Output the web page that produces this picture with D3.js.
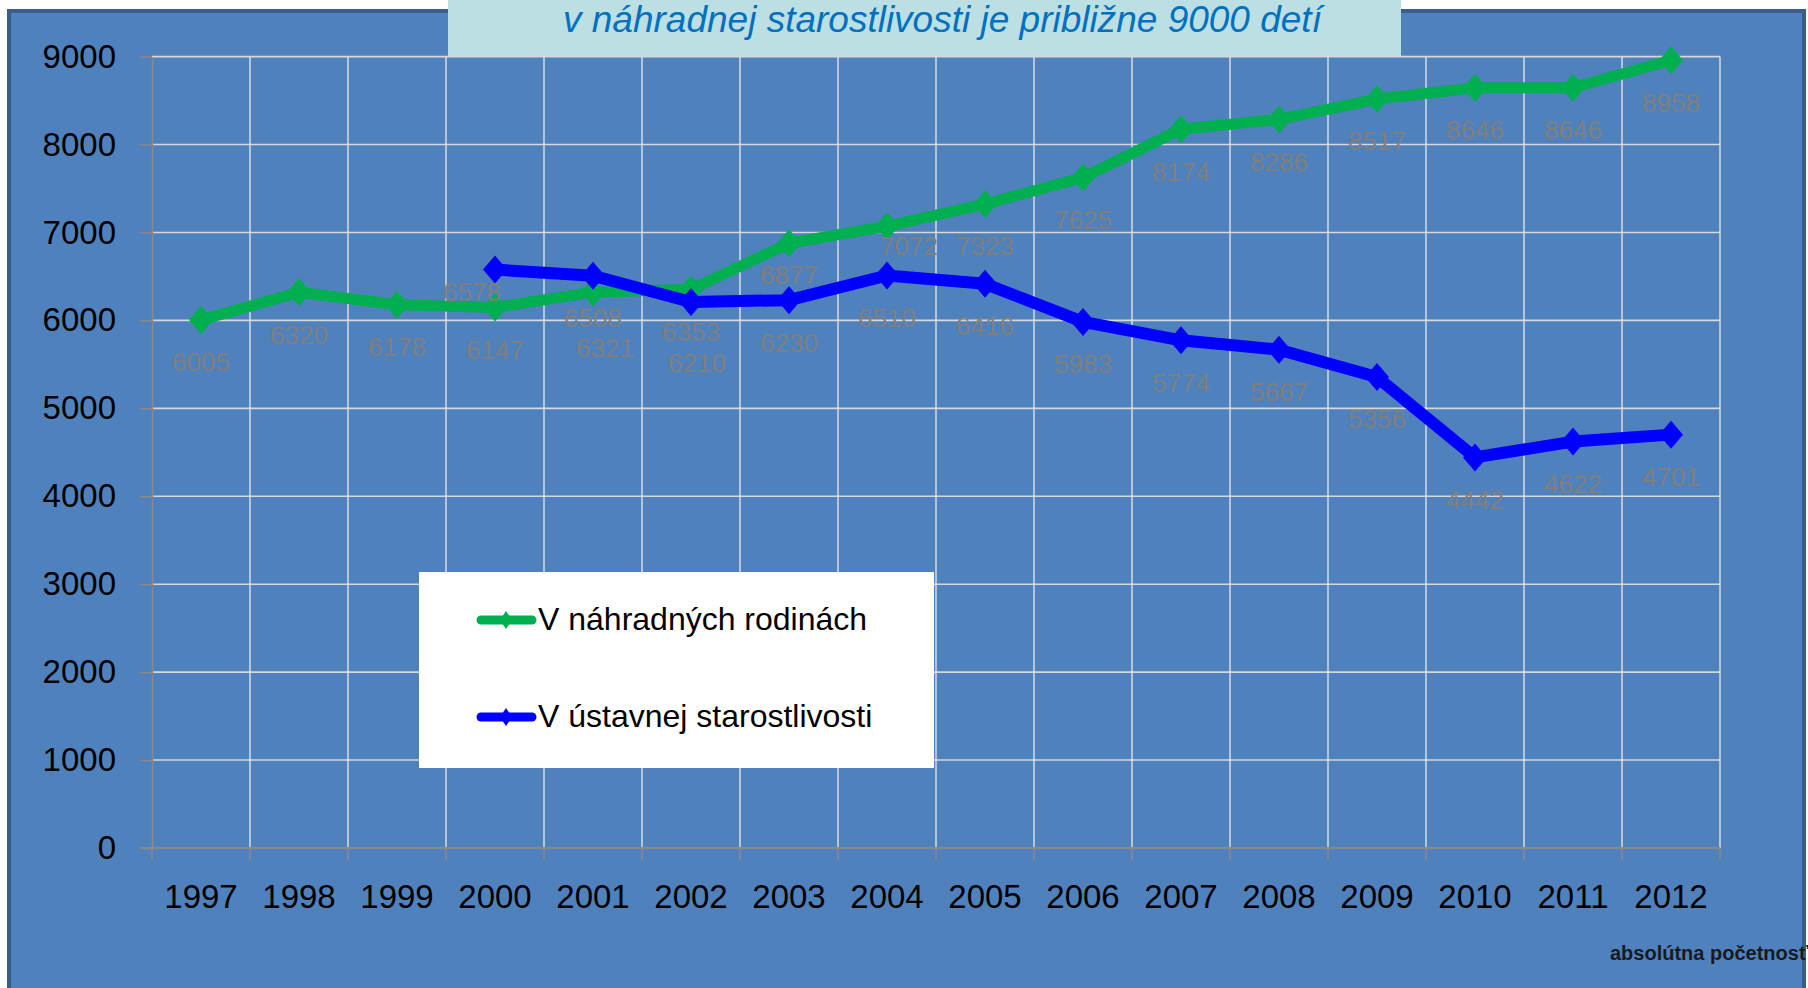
<!DOCTYPE html>
<html>
<head>
<meta charset="utf-8">
<script src="https://cdn.jsdelivr.net/npm/d3@7"></script>
<style>
  body { margin: 0; background: #fff; }
  svg { display: block; font-family: "Liberation Sans", Arial, sans-serif; }
</style>
</head>
<body>
<svg id="chart"></svg>
<script>
var width = 1808,
    height = 988;

// data
var years = ["1997", "1998", "1999", "2000", "2001", "2002", "2003", "2004",
             "2005", "2006", "2007", "2008", "2009", "2010", "2011", "2012"];
var rodiny = [6005, 6320, 6178, 6147, 6321, 6353, 6877, 7072,
              7323, 7625, 8174, 8286, 8517, 8646, 8646, 8958];
var ustavy = [null, null, null, 6578, 6508, 6210, 6230, 6510,
              6416, 5983, 5774, 5667, 5356, 4442, 4622, 4701];
var yTicks = [0, 1000, 2000, 3000, 4000, 5000, 6000, 7000, 8000, 9000];
var seriesNames = ["V náhradných rodinách", "V ústavnej starostlivosti"];
var titleText = "v náhradnej starostlivosti je približne 9000 detí";
var noteText = "absolútna početnosť";

// a few labels were pushed around by hand in the original
var labelNudge = {
  "g2001": [12, 13],
  "g2003": [0, -11],
  "g2004": [22, -22],
  "b2000": [-23, -20],
  "b2002": [6, 19]
};

var plot = { left: 152, right: 1720, top: 56.6, bottom: 848 };

var svg = d3.select("#chart").attr("width", width).attr("height", height);

// background frame
svg.append("rect")
  .attr("x", 9).attr("y", 11)
  .attr("width", 1795).attr("height", 1000)
  .attr("fill", "#4f81bd")
  .attr("stroke", "#3a5e8c")
  .attr("stroke-width", 4);

var x = d3.scaleBand().domain(years).range([plot.left, plot.right]).padding(0);
var y = d3.scaleLinear().domain([0, 9000]).range([plot.bottom, plot.top]);

// horizontal gridlines
svg.append("g")
  .selectAll("line")
  .data(yTicks.filter(function(d) { return d > 0; }))
  .enter().append("line")
  .attr("x1", plot.left).attr("x2", plot.right)
  .attr("y1", function(d) { return y(d); })
  .attr("y2", function(d) { return y(d); })
  .attr("stroke", "#d4d8de")
  .attr("stroke-width", 1.6);

// vertical gridlines between categories
svg.append("g")
  .selectAll("line")
  .data(years)
  .enter().append("line")
  .attr("x1", function(d) { return x(d) + x.bandwidth(); })
  .attr("x2", function(d) { return x(d) + x.bandwidth(); })
  .attr("y1", plot.top).attr("y2", plot.bottom)
  .attr("stroke", "#dfe3e8")
  .attr("stroke-width", 1.4);

// y axis
var yAxis = svg.append("g")
  .attr("transform", "translate(" + plot.left + ",0)")
  .call(d3.axisLeft(y).tickValues(yTicks).tickFormat(d3.format("d"))
    .tickSize(12).tickPadding(24).tickSizeOuter(0));
yAxis.select(".domain").attr("stroke", "#8a8a8a").attr("stroke-width", 1.5);
yAxis.selectAll(".tick line").attr("stroke", "#8a8a8a").attr("stroke-width", 1.5);
yAxis.selectAll(".tick text")
  .attr("fill", "#000")
  .attr("font-size", 33)
  .attr("font-family", "'Liberation Sans', Arial, sans-serif");

// x axis line + ticks on band edges
svg.append("line")
  .attr("x1", plot.left - 12).attr("x2", plot.right)
  .attr("y1", plot.bottom).attr("y2", plot.bottom)
  .attr("stroke", "#8a8a8a").attr("stroke-width", 2);
svg.append("g")
  .selectAll("line")
  .data([null].concat(years))
  .enter().append("line")
  .attr("x1", function(d) { return d === null ? x(years[0]) : x(d) + x.bandwidth(); })
  .attr("x2", function(d) { return d === null ? x(years[0]) : x(d) + x.bandwidth(); })
  .attr("y1", plot.bottom).attr("y2", plot.bottom + 12)
  .attr("stroke", "#8a8a8a").attr("stroke-width", 1.5);

var xAxis = svg.append("g")
  .attr("transform", "translate(0," + plot.bottom + ")")
  .call(d3.axisBottom(x).tickSize(0).tickPadding(37));
xAxis.select(".domain").remove();
xAxis.selectAll(".tick text")
  .attr("fill", "#000")
  .attr("font-size", 33)
  .attr("font-family", "'Liberation Sans', Arial, sans-serif");

// series
function diamond(hw, hh) {
  return "M0," + (-hh) + "L" + hw + ",0L0," + hh + "L" + (-hw) + ",0Z";
}

var series = [
  { key: "g", values: rodiny, color: "#00b050", width: 11 },
  { key: "b", values: ustavy, color: "#0000ff", width: 12 }
];

var line = d3.line()
  .defined(function(d) { return d.v != null; })
  .x(function(d) { return x(d.year) + x.bandwidth() / 2; })
  .y(function(d) { return y(d.v); });

series.forEach(function(s) {
  var pts = years.map(function(yr, i) { return { year: yr, v: s.values[i] }; });
  s.pts = pts.filter(function(d) { return d.v != null; });
  svg.append("path")
    .datum(pts)
    .attr("fill", "none")
    .attr("stroke", s.color)
    .attr("stroke-width", s.width)
    .attr("stroke-linejoin", "round")
    .attr("d", line);
  svg.append("g")
    .selectAll("path")
    .data(s.pts)
    .enter().append("path")
    .attr("d", diamond(12, 14))
    .attr("fill", s.color)
    .attr("transform", function(d) {
      return "translate(" + (x(d.year) + x.bandwidth() / 2) + "," + y(d.v) + ")";
    });
});

// data labels
series.forEach(function(s) {
  svg.append("g")
    .selectAll("text")
    .data(s.pts)
    .enter().append("text")
    .attr("x", function(d) {
      var n = labelNudge[s.key + d.year] || [0, 0];
      return x(d.year) + x.bandwidth() / 2 + n[0];
    })
    .attr("y", function(d) {
      var n = labelNudge[s.key + d.year] || [0, 0];
      return y(d.v) + 42 + n[1];
    })
    .attr("dy", "0.36em")
    .attr("text-anchor", "middle")
    .attr("font-size", 26)
    .attr("fill", "#7f7f7f")
    .text(function(d) { return d.v; });
});

// legend
var legend = svg.append("g");
legend.append("rect")
  .attr("x", 419).attr("y", 572)
  .attr("width", 515).attr("height", 196)
  .attr("fill", "#fff");
var items = legend.selectAll("g.item")
  .data(series)
  .enter().append("g")
  .attr("class", "item")
  .attr("transform", function(d, i) { return "translate(0," + (620 + i * 97) + ")"; });
items.append("line")
  .attr("x1", 481).attr("x2", 532)
  .attr("stroke", function(d) { return d.color; })
  .attr("stroke-width", 9)
  .attr("stroke-linecap", "round");
items.append("path")
  .attr("d", diamond(6, 9))
  .attr("transform", "translate(506,0)")
  .attr("fill", function(d) { return d.color; });
items.append("text")
  .attr("x", 538)
  .attr("y", 10)
  .attr("font-size", 32)
  .attr("fill", "#000")
  .text(function(d, i) { return seriesNames[i]; });

// title box
svg.append("rect")
  .attr("x", 448).attr("y", 0)
  .attr("width", 953).attr("height", 56)
  .attr("fill", "#bcdfe4");
svg.append("text")
  .attr("x", 563).attr("y", 32)
  .attr("font-size", 37)
  .attr("font-style", "italic")
  .attr("fill", "#0070c0")
  .text(titleText);

// small note at the bottom right
svg.append("text")
  .attr("x", 1610).attr("y", 960)
  .attr("font-size", 20)
  .attr("font-weight", "bold")
  .attr("fill", "#1a1a1a")
  .text(noteText);
</script>
</body>
</html>
